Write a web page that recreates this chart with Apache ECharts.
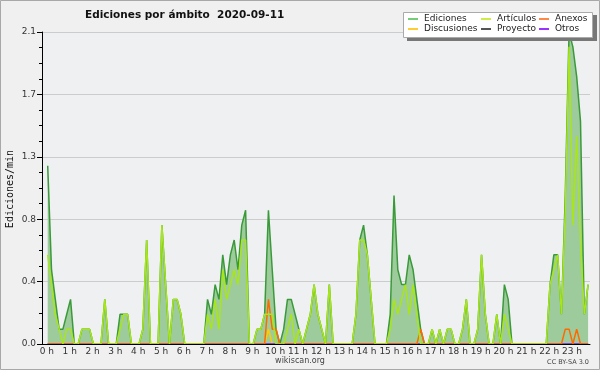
<!DOCTYPE html>
<html><head><meta charset="utf-8">
<script src="https://cdn.jsdelivr.net/npm/echarts@6/dist/echarts.min.js"></script>
<style>html,body{margin:0;padding:0;background:#f0f0f0}#c{width:600px;height:370px}</style>
</head><body><div id="c"></div><script>
// Hour labels along the x axis (one label every 6 ten-minute bins)
const hourLabels = ['0 h','1 h','2 h','3 h','4 h','5 h','6 h','7 h','8 h','9 h','10 h','11 h',
  '12 h','13 h','14 h','15 h','16 h','17 h','18 h','19 h','20 h','21 h','22 h','23 h'];
const yTickValues = [0, 0.42, 0.84, 1.26, 1.68, 2.1];

// Ten-minute bins, edits per minute (index 0 = 00:00-00:10)
const ediciones = [null,
 1.2,0.5,0.3,0.1,0.1,0.2,0.3,0,0,0.1,0.1,0.1,0,0,0,0.3,0,0,0,0.2,0.2,0.2,0,0,0,0.1,0.7,0,0,0,
 0.8,0.4,0,0.3,0.3,0.2,0,0,0,0,0,0,0.3,0.2,0.4,0.3,0.6,0.4,0.6,0.7,0.5,0.8,0.9,0,0,0.1,0.1,0.2,0.9,0.5,
 0.1,0,0.1,0.3,0.3,0.2,0.1,0,0.1,0.2,0.4,0.2,0.1,0,0.4,0,0,0,0,0,0,0.2,0.7,0.8,0.6,0.3,0,0,0,0,
 0.2,1.0,0.5,0.4,0.4,0.6,0.5,0.3,0.1,0,0,0.1,0,0.1,0,0.1,0.1,0,0,0.1,0.3,0,0,0.1,0.6,0.2,0,0,0.2,0,
 0.4,0.3,0,0,0,0,0,0,0,0,0,0,0.4,0.6,0.6,0.2,1.0,2.1,2.0,1.8,1.5,0.2,0.4];
const articulos = [null,
 0.6,0.4,0.2,0.1,0,0.1,0.1,0,0,0.1,0.1,0.1,0,0,0,0.3,0,0,0,0.1,0.2,0.2,0,0,0,0.1,0.7,0,0,0,
 0.8,0.4,0,0.3,0.3,0.2,0,0,0,0,0,0,0.2,0.1,0.3,0.1,0.5,0.3,0.4,0.5,0.4,0.7,0.7,0,0,0.1,0.1,0.2,0.2,0.2,
 0,0,0,0.1,0.2,0,0.1,0,0.1,0.2,0.4,0.2,0.1,0,0.4,0,0,0,0,0,0,0.2,0.7,0.7,0.6,0.3,0,0,0,0,
 0.1,0.3,0.2,0.3,0.4,0.2,0.4,0.2,0,0,0,0.1,0,0.1,0,0.1,0.1,0,0,0.1,0.3,0,0,0.1,0.6,0.2,0,0,0.2,0,
 0.2,0.1,0,0,0,0,0,0,0,0,0,0,0.4,0.5,0.6,0.2,0.9,2.0,0.8,1.4,0.7,0.2,0.4];
const anexos = [null,
 0,0,0,0,0,0,0,0,0,0,0,0,0,0,0,0,0,0,0,0,0,0,0,0,0,0,0,0,0,0,
 0,0,0,0,0,0,0,0,0,0,0,0,0,0,0,0,0,0,0,0,0,0,0,0,0,0,0,0,0.3,0.1,
 0.1,0,0,0,0,0,0,0,0,0,0,0,0,0,0,0,0,0,0,0,0,0,0,0,0,0,0,0,0,0,
 0,0,0,0,0,0,0,0,0.1,0,0,0,0,0,0,0,0,0,0,0,0,0,0,0,0,0,0,0,0,0,
 0,0,0,0,0,0,0,0,0,0,0,0,0,0,0,0,0.1,0.1,0,0.1,0,0,0];
const discusiones = [null,
 0,0,0,0,0,0,0,0,0,0,0,0,0,0,0,0,0,0,0,0,0,0,0,0,0,0,0,0,0,0,
 0,0,0,0,0,0,0,0,0,0,0,0,0,0,0,0,0,0,0,0,0,0,0,0,0,0,0,0,0.1,0,
 0,0,0,0,0,0,0,0,0,0,0,0,0,0,0,0,0,0,0,0,0,0,0,0,0,0,0,0,0,0,
 0,0,0,0,0,0,0,0,0,0,0,0,0,0,0,0,0,0,0,0,0,0,0,0,0,0,0,0,0,0,
 0,0,0,0,0,0,0,0,0,0,0,0,0,0,0,0,0,0,0,0,0,0,0];
const proyecto = [null,
 0,0,0,0,0,0,0,0,0,0,0,0,0,0,0,0,0,0,0,0,0,0,0,0,0,0,0,0,0,0,
 0,0,0,0,0,0,0,0,0,0,0,0,0,0,0,0,0,0,0,0,0,0,0,0,0,0,0,0,0,0,
 0,0,0,0,0,0,0,0,0,0,0,0,0,0,0,0,0,0,0,0,0,0,0,0,0,0,0,0,0,0,
 0,0,0,0,0,0,0,0,0,0,0,0,0,0,0,0,0,0,0,0,0,0,0,0,0,0,0,0,0,0,
 0,0,0,0,0,0,0,0,0,0,0,0,0,0,0,0,0,0,0,0,0,0,0];
const otros = [null,
 0,0,0,0,0,0,0,0,0,0,0,0,0,0,0,0,0,0,0,0,0,0,0,0,0,0,0,0,0,0,
 0,0,0,0,0,0,0,0,0,0,0,0,0,0,0,0,0,0,0,0,0,0,0,0,0,0,0,0,0,0,
 0,0,0,0,0,0,0,0,0,0,0,0,0,0,0,0,0,0,0,0,0,0,0,0,0,0,0,0,0,0,
 0,0,0,0,0,0,0,0,0,0,0,0,0,0,0,0,0,0,0,0,0,0,0,0,0,0,0,0,0,0,
 0,0,0,0,0,0,0,0,0,0,0,0,0,0,0,0,0,0,0,0,0,0,0];

// category per ten-minute bin
const bins = [];
hourLabels.forEach(function(h, hi){ for (let m = 0; m < 60; m += 10) bins.push(hi + ':' + (m < 10 ? '0' : '') + m); });

const F = 'DejaVu Sans';
const chart = echarts.init(document.getElementById('c'), null, {renderer: 'canvas'});
function lineSeries(name, data, color, extra) {
  return Object.assign({
    name: name, type: 'line', data: data, symbol: 'none', animation: false,
    lineStyle: {color: color, width: 1.5}, itemStyle: {color: color},
    emphasis: {disabled: true}, silent: true
  }, extra || {});
}
const legendBase = {
  orient: 'vertical', top: 14, itemGap: 0, itemWidth: 10, itemHeight: 2, icon: 'rect',
  padding: 0, selectedMode: false, z: 30,
  textStyle: {fontSize: 9, fontFamily: F, color: '#222', lineHeight: 10, padding: [0,0,0,1]}
};
chart.setOption({
  animation: false,
  backgroundColor: '#f0f0f0',
  title: {text: 'Ediciones por ámbito  2020-09-11', left: 85, top: 10, padding: 0,
    textStyle: {fontFamily: F, fontWeight: 'bold', fontSize: 10.5, color: '#111'}},
  grid: {left: 42, right: 10, top: 32, bottom: 26, show: true, backgroundColor: '#eef0f2', borderWidth: 0},
  legend: [
    Object.assign({}, legendBase, {left: 408, data: [{name: 'Ediciones', itemStyle: {color: '#77cc77'}}, {name: 'Discusiones', itemStyle: {color: '#ffcc33'}}]}),
    Object.assign({}, legendBase, {left: 481, data: [{name: 'Artículos', itemStyle: {color: '#ccee44'}}, {name: 'Proyecto', itemStyle: {color: '#555555'}}]}),
    Object.assign({}, legendBase, {left: 539, data: [{name: 'Anexos', itemStyle: {color: '#ff8844'}}, {name: 'Otros', itemStyle: {color: '#9933ff'}}]})
  ],
  xAxis: {
    type: 'category', data: bins, boundaryGap: true, z: 10,
    axisLine: {lineStyle: {color: '#000', width: 1}},
    axisTick: {interval: 0, length: 4, lineStyle: {color: '#000'}},
    axisLabel: {
      interval: function(i){ return i % 6 === 0; },
      formatter: function(v, i){ return hourLabels[Math.floor(i / 6)]; },
      fontFamily: F, fontSize: 9, color: '#333', margin: 3, padding: [0,0,0,6]
    },
    splitLine: {show: false}
  },
  yAxis: {
    type: 'value', min: yTickValues[0], max: yTickValues[yTickValues.length - 1],
    interval: yTickValues[1] - yTickValues[0],
    axisLine: {show: true, lineStyle: {color: '#000'}},
    axisTick: {show: true, length: 5, lineStyle: {color: '#000'}},
    minorTick: {show: true, splitNumber: 4, length: 3, lineStyle: {color: '#000'}},
    axisLabel: {formatter: function(v){ return v.toFixed(1); }, fontFamily: F, fontSize: 9, color: '#333', margin: 6},
    splitLine: {lineStyle: {color: '#cccccc', width: 1}}
  },
  series: [
    lineSeries('Ediciones', ediciones, '#3a9a3a', {areaStyle: {color: '#9ecb9c', opacity: 1}}),
    lineSeries('Discusiones', discusiones, '#ffcc00'),
    lineSeries('Proyecto', proyecto, '#555555'),
    lineSeries('Otros', otros, '#9933ff'),
    lineSeries('Anexos', anexos, '#ff6a00'),
    lineSeries('Artículos', articulos, '#a8e61a')
  ],
  graphic: [
    {type: 'rect', shape: {x: 0.5, y: 0.5, width: 599, height: 369}, style: {fill: 'none', stroke: '#a8a8a8', lineWidth: 1}, z: 50, silent: true},
    {type: 'rect', shape: {x: 407, y: 15, width: 190, height: 26}, style: {fill: '#777777'}, z: 20, silent: true},
    {type: 'rect', shape: {x: 403.5, y: 12.5, width: 189, height: 25}, style: {fill: '#ffffff', stroke: '#aaaaaa', lineWidth: 1}, z: 21, silent: true},
    {type: 'text', x: 10, y: 189, rotation: Math.PI / 2, style: {text: 'Ediciones/min', font: '10px "DejaVu Sans Mono"', fill: '#111', textAlign: 'center', textVerticalAlign: 'middle'}, z: 30},
    {type: 'text', x: 300, y: 361, style: {text: 'wikiscan.org', font: '8px "DejaVu Sans"', fill: '#444', textAlign: 'center', textVerticalAlign: 'middle'}, z: 30},
    {type: 'text', x: 589, y: 362, style: {text: 'CC BY-SA 3.0', font: '6.5px "DejaVu Sans"', fill: '#444', textAlign: 'right', textVerticalAlign: 'middle'}, z: 30}
  ]
});
</script></body></html>
